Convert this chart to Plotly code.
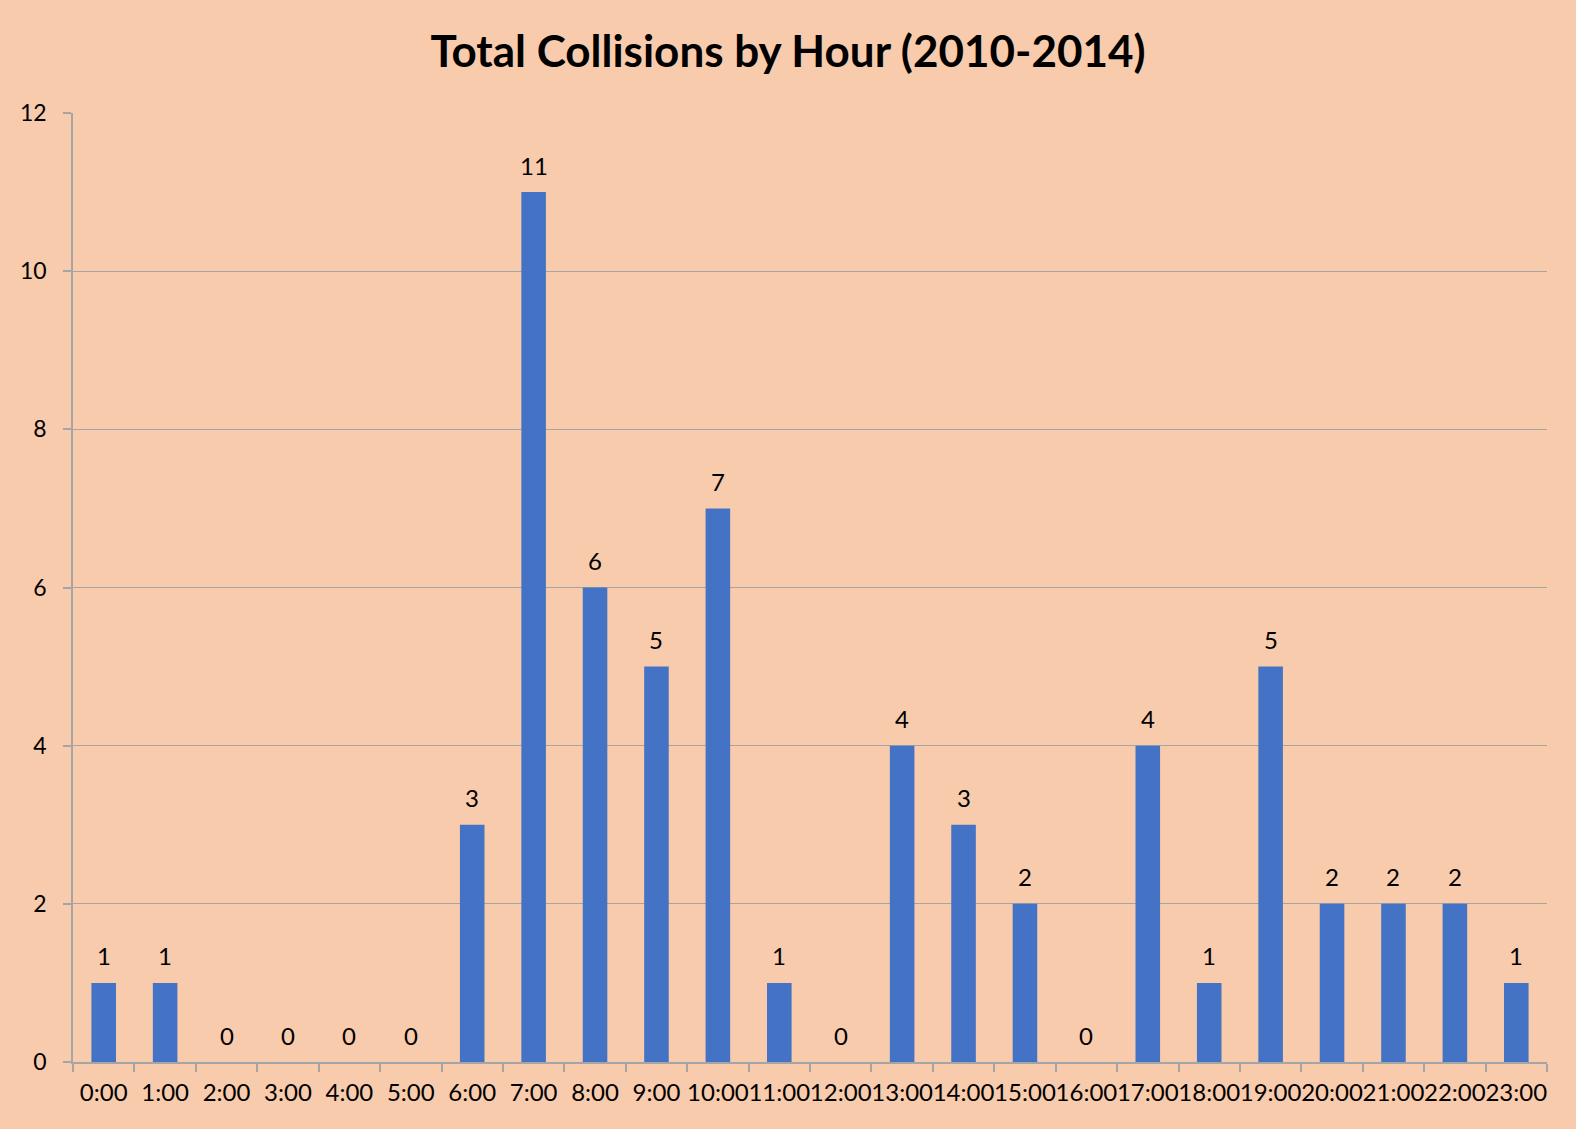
import plotly.graph_objects as go

hours = ["0:00","1:00","2:00","3:00","4:00","5:00","6:00","7:00","8:00","9:00","10:00","11:00",
         "12:00","13:00","14:00","15:00","16:00","17:00","18:00","19:00","20:00","21:00","22:00","23:00"]
collisions = [1,1,0,0,0,0,3,11,6,5,7,1,0,4,3,2,0,4,1,5,2,2,2,1]

bg = "#F8CBAD"
grid = "#A5A5A5"
font_family = "Lato, 'Open Sans', sans-serif"

fig = go.Figure(go.Bar(
    x=hours, y=collisions,
    marker=dict(color="#4472C4", line=dict(width=0)),
    width=0.4,
    hoverinfo="x+y",
))

for h, v in zip(hours, collisions):
    fig.add_annotation(x=h, y=v, text=str(v), showarrow=False,
                       yanchor="middle", yshift=27,
                       font=dict(size=24, color="black", family=font_family))

fig.update_layout(
    width=1576, height=1129,
    paper_bgcolor=bg, plot_bgcolor=bg,
    margin=dict(l=73, r=29, t=113, b=67),
    title=dict(text="<b>Total Collisions by Hour (2010-2014)</b>",
               x=0.5, xanchor="center", y=1-52/1129, yanchor="middle",
               font=dict(size=44, color="black", family=font_family)),
    font=dict(family=font_family, color="black"),
    showlegend=False,
)
fig.update_xaxes(
    type="category", tickangle=0,
    showline=True, linecolor=grid, linewidth=1.5,
    ticks="outside", tickson="boundaries", ticklen=8, tickcolor=grid, tickwidth=1.5,
    ticklabelstandoff=8,
    tickfont=dict(size=24, color="black"),
    showgrid=False,
)
fig.update_yaxes(
    range=[0, 12], dtick=2,
    showline=True, linecolor=grid, linewidth=1.5,
    ticks="outside", ticklen=8, tickcolor=grid, tickwidth=1.5,
    ticklabelstandoff=12,
    showgrid=True, gridcolor=grid, gridwidth=1,
    zeroline=False,
    tickfont=dict(size=23, color="black"),
)

fig.write_html("out.html",
               config={"displayModeBar": False},
               post_script="document.body.style.margin='0';document.body.style.padding='0';document.body.style.overflow='hidden';")
